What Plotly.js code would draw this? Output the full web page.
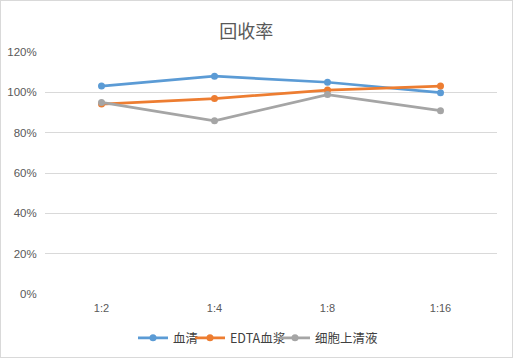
<!DOCTYPE html>
<html><head><meta charset="utf-8">
<script src="https://cdn.plot.ly/plotly-3.0.1.min.js"></script>
<style>html,body{margin:0;padding:0;background:#fff}#c{width:511px;height:356px;border:1px solid #d9d9d9}</style>
</head><body><div id="c"></div>
<script>
const categories = ["1:2", "1:4", "1:8", "1:16"];
const serum = [1.031, 1.080, 1.050, 0.998];
const edta = [0.942, 0.969, 1.011, 1.031];
const cellSup = [0.950, 0.859, 0.989, 0.909];
const names = ["血清", "EDTA血浆", "细胞上清液"];
const colors = ["#5B9BD5", "#ED7D31", "#A5A5A5"];
const font = "Liberation Sans, 'Noto Sans CJK SC', sans-serif";
const series = [serum, edta, cellSup];
const legendIds = ["legend", "legend2", "legend3"];
const traces = series.map((y, i) => ({
  x: categories, y: y, name: names[i], type: "scatter", mode: "lines+markers",
  legend: legendIds[i],
  line: {color: colors[i], width: 2.75}, marker: {color: colors[i], size: 7}
}));
const legFont = {family: "'Noto Sans CJK SC', sans-serif", size: 12.5, color: "#404040"};
const legX = [132, 189, 274];
const layout = {
  width: 511, height: 356,
  margin: {l: 44, r: 15, t: 50.5, b: 63, autoexpand: false},
  paper_bgcolor: "#fff", plot_bgcolor: "#fff",
  title: {text: "回收率", x: 0.48, xanchor: "center", y: 0.915, yanchor: "middle",
    font: {family: "'Noto Sans CJK SC', sans-serif", size: 18, color: "#595959"}},
  xaxis: {type: "category", range: [-0.5, 3.5], showgrid: false, zeroline: false, showline: false,
    ticks: "outside", ticklen: 4, tickcolor: "rgba(0,0,0,0)",
    tickfont: {family: font, size: 11, color: "#595959"}},
  yaxis: {range: [0, 1.2], dtick: 0.2, tickformat: ".0%", gridcolor: "#d9d9d9", gridwidth: 1,
    zeroline: false, showline: false, ticks: "outside", ticklen: 5, tickcolor: "rgba(0,0,0,0)",
    tickfont: {family: font, size: 11.5, color: "#595959"}},
  showlegend: true
};
legendIds.forEach((id, i) => {
  layout[id] = {orientation: "h", xref: "container", x: legX[i] / 511, xanchor: "left",
    yref: "container", y: 0.053, yanchor: "middle", font: legFont, itemwidth: 30,
    bgcolor: "rgba(0,0,0,0)"};
});
Plotly.newPlot("c", traces, layout, {displayModeBar: false});
</script></body></html>
